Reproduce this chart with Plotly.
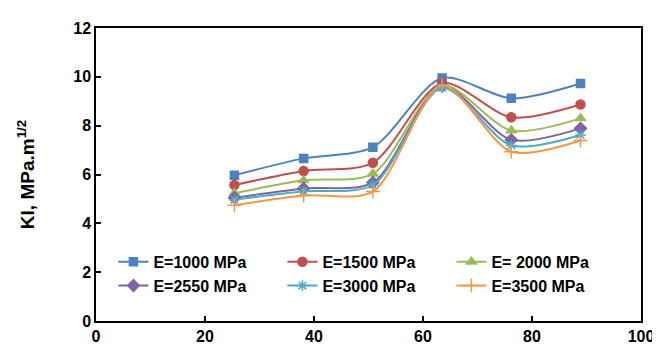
import plotly.graph_objects as go

x_vals = [25.4, 38.1, 50.8, 63.5, 76.2, 88.9]
series_names = ["E=1000 MPa", "E=1500 MPa", "E= 2000 MPa", "E=2550 MPa", "E=3000 MPa", "E=3500 MPa"]
ki_1000 = [5.97, 6.66, 7.12, 9.95, 9.12, 9.73]
ki_1500 = [5.57, 6.14, 6.48, 9.75, 8.34, 8.87]
ki_2000 = [5.23, 5.76, 6.03, 9.65, 7.80, 8.30]
ki_2550 = [5.05, 5.43, 5.67, 9.62, 7.42, 7.89]
ki_3000 = [4.97, 5.31, 5.57, 9.55, 7.19, 7.62]
ki_3500 = [4.74, 5.14, 5.30, 9.65, 6.93, 7.39]
x_ticks = [0, 20, 40, 60, 80, 100]
y_ticks = [0, 2, 4, 6, 8, 10, 12]

series = [ki_1000, ki_1500, ki_2000, ki_2550, ki_3000, ki_3500]
colors = ["#4F81BD", "#C0504D", "#9BBB59", "#8064A2", "#4BACC6", "#F79646"]
symbols = ["square", "circle", "triangle-up", "diamond", "asterisk-open", "cross-thin-open"]
sizes = [8, 9, 9, 9, 9, 10]

fig = go.Figure()
for name, ys, c, s, sz in zip(series_names, series, colors, symbols, sizes):
    fig.add_trace(go.Scatter(
        x=x_vals, y=ys, name=name, mode="lines+markers",
        line=dict(color=c, width=2, shape="spline", smoothing=0.8),
        marker=dict(symbol=s, size=sz, color=c, line=dict(color=c, width=1.5)),
    ))

fam = "Liberation Sans, Arial, sans-serif"
fig.update_layout(
    width=660, height=349,
    margin=dict(l=88, r=27, t=19, b=28),
    paper_bgcolor="white", plot_bgcolor="white",
    font=dict(family=fam, size=16, color="#000000"),
    showlegend=True,
    legend=dict(
        orientation="h", x=0.032, y=0.26, xanchor="left", yanchor="top",
        entrywidth=124, entrywidthmode="pixels",
        font=dict(family=fam, size=16, color="#000000", weight="bold"),
        bgcolor="rgba(0,0,0,0)", itemwidth=30,
    ),
    xaxis=dict(
        range=[0, 100], tickvals=x_ticks, ticks="inside", ticklen=5, tickwidth=1.5, tickcolor="#000",
        showline=True, linecolor="#000", linewidth=1.5, mirror=True, showgrid=False, zeroline=False,
        tickfont=dict(family=fam, size=16, weight="bold"),
    ),
    yaxis=dict(
        range=[0, 12], tickvals=y_ticks, ticks="inside", ticklen=5, tickwidth=1.5, tickcolor="#000",
        showline=True, linecolor="#000", linewidth=1.5, mirror=True, showgrid=False, zeroline=False,
        tickfont=dict(family=fam, size=16, weight="bold"),
        title=dict(text="KI, MPa.m<sup>1/2</sup>", standoff=34,
                   font=dict(family=fam, size=19, weight="bold")),
    ),
)
fig.write_html("out.html")
